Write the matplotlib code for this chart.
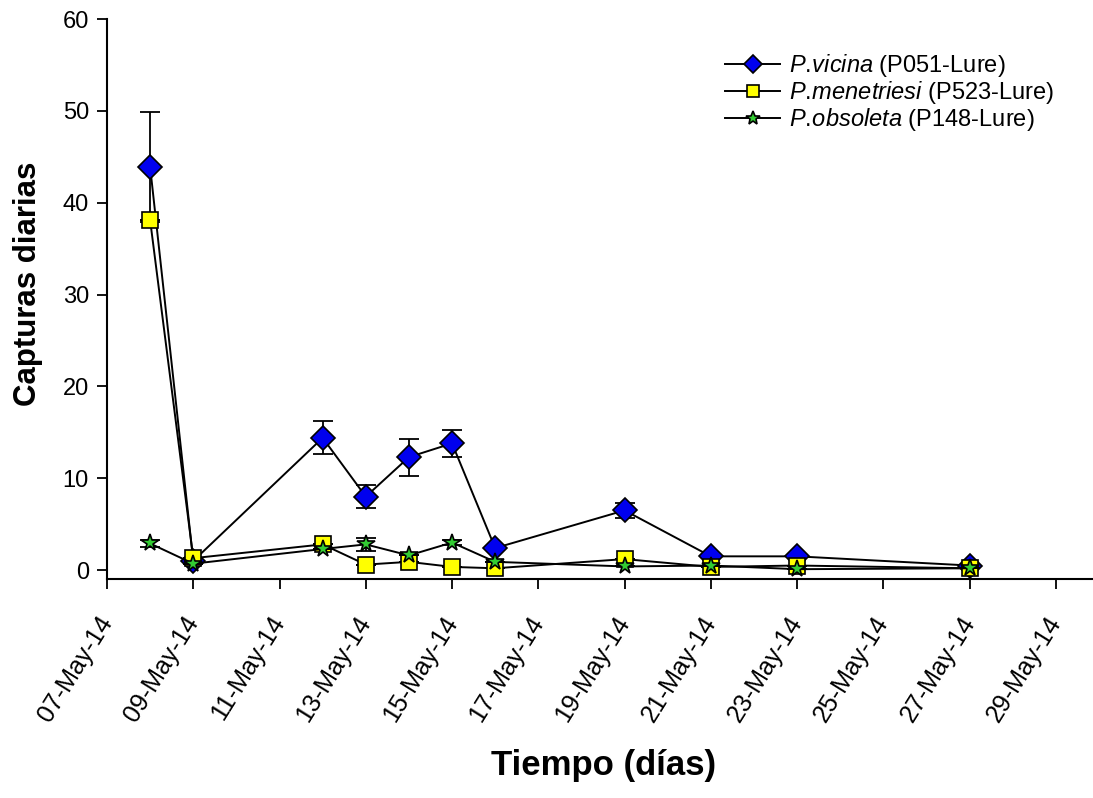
import datetime as dt
import matplotlib
matplotlib.use("Agg")
import matplotlib.pyplot as plt
import matplotlib.dates as mdates

plt.rcParams['font.family'] = ['Liberation Sans', 'DejaVu Sans']
plt.rcParams['mathtext.fontset'] = 'custom'
plt.rcParams['mathtext.it'] = 'Liberation Sans:italic'
plt.rcParams['mathtext.rm'] = 'Liberation Sans'

# sampling days (May 2014)
days = [8, 9, 12, 13, 14, 15, 16, 19, 21, 23, 27]

vicina = [43.9, 1.0, 14.4, 8.0, 12.3, 13.8, 2.4, 6.5, 1.5, 1.5, 0.5]
vicina_err = [6.0, 0.0, 1.8, 1.25, 2.0, 1.45, 0.0, 0.85, 0.0, 0.0, 0.0]

menetriesi = [38.1, 1.3, 2.8, 0.6, 0.9, 0.35, 0.2, 1.2, 0.35, 0.5, 0.2]
menetriesi_err = [0.0, 0.0, 0.0, 0.0, 0.0, 0.0, 0.0, 0.0, 0.0, 0.0, 0.0]

obsoleta = [2.9, 0.7, 2.3, 2.8, 1.6, 3.0, 0.9, 0.4, 0.5, 0.1, 0.2]
obsoleta_err = [0.4, 0.0, 0.0, 0.7, 0.0, 0.3, 0.0, 0.0, 0.0, 0.0, 0.0]

# \! cancels the thin space mathtext puts after the dot
labels = [r'$\it{P.\!vicina}$ (P051-Lure)',
          r'$\it{P.\!menetriesi}$ (P523-Lure)',
          r'$\it{P.\!obsoleta}$ (P148-Lure)']

dates = [dt.datetime(2014, 5, d) for d in days]

fig = plt.figure(figsize=(10.93, 7.98), dpi=100)
ax = fig.add_axes([107 / 1093, 1 - 579.3 / 798, 1 - 107 / 1093, (579.3 - 19) / 798])

series = [
    (vicina, vicina_err, 'D', '#0000ee', 12),
    (menetriesi, menetriesi_err, 's', '#ffff00', 11),
    (obsoleta, obsoleta_err, '*', '#33cc33', 13),
]
handles = []
for (vals, err, mk, col, ms), lab in zip(series, labels):
    ax.errorbar(dates, vals, yerr=err, fmt='none', ecolor='black',
                elinewidth=1.3, capsize=7, capthick=1.3)
    ln, = ax.plot(dates, vals, color='black', lw=1.4, marker=mk,
                  markersize=ms, markerfacecolor=col, markeredgecolor='black',
                  markeredgewidth=1.2, label=lab)
    handles.append(ln)

ax.set_xlim(dt.datetime(2014, 5, 7), dt.datetime(2014, 5, 7) + dt.timedelta(days=22.86))
ax.set_ylim(-1.0, 60)
ax.set_yticks([0, 10, 20, 30, 40, 50, 60])
ax.xaxis.set_major_locator(mdates.DayLocator(bymonthday=range(7, 31, 2)))
ax.xaxis.set_major_formatter(mdates.DateFormatter('%d-%b-%y'))

ax.spines['top'].set_visible(False)
ax.spines['right'].set_visible(False)
ax.spines['left'].set_linewidth(1.5)
ax.spines['bottom'].set_linewidth(1.5)
ax.tick_params(axis='both', direction='out', length=7, width=1.3)
ax.tick_params(axis='y', pad=6, labelsize=17)
ax.tick_params(axis='x', pad=21, labelsize=18)
for lbl in ax.get_xticklabels():
    lbl.set_rotation(58)
    lbl.set_ha('right')
    lbl.set_va('center')
    lbl.set_rotation_mode('anchor')

fig.text(28 / 1093, 1 - 284 / 798, 'Capturas diarias', rotation=90,
         fontsize=22.5, fontweight='bold', ha='center', va='center')
fig.text(604 / 1093, 1 - 766 / 798, 'Tiempo (días)',
         fontsize=25, fontweight='bold', ha='center', va='center')

ax.legend(handles=handles, loc='upper left', bbox_to_anchor=(725 / 1093, 1 - 52 / 798),
          bbox_transform=fig.transFigure, frameon=False, fontsize=17,
          handlelength=2.35, handletextpad=0.35, labelspacing=0.0,
          markerscale=0.8, borderpad=0, borderaxespad=0)

fig.savefig('out.png', dpi=100)
